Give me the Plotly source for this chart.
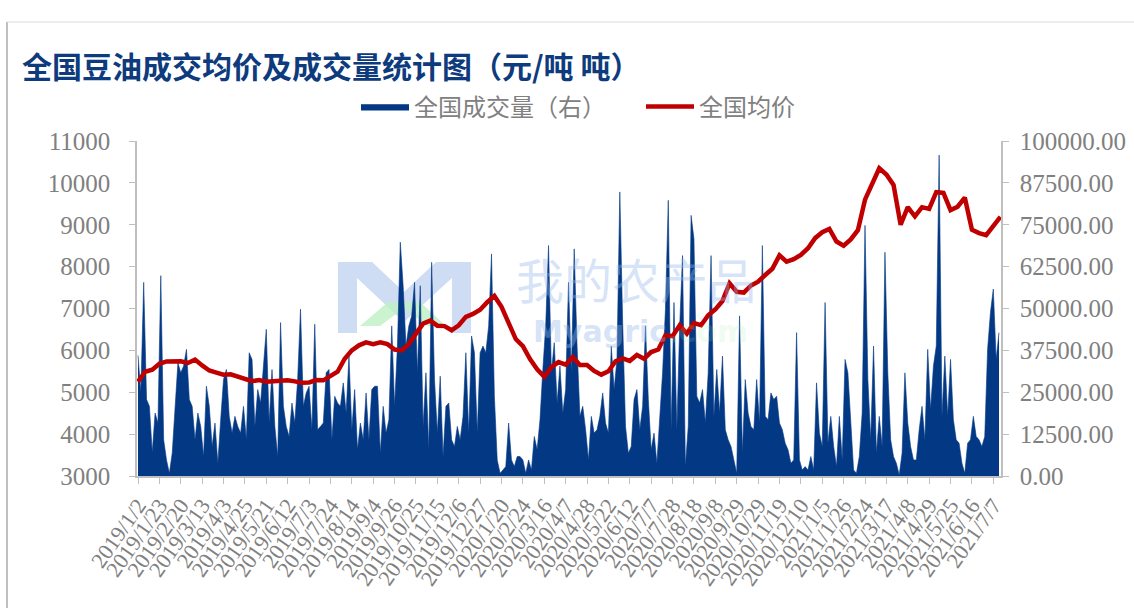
import plotly.graph_objects as go

# ---- data ----
TICK_LABELS = [
    "2019/1/2", "2019/1/23", "2019/2/20", "2019/3/13", "2019/4/3", "2019/4/25",
    "2019/5/21", "2019/6/12", "2019/7/3", "2019/7/24", "2019/8/14", "2019/9/4",
    "2019/9/26", "2019/10/25", "2019/11/15", "2019/12/6", "2019/12/27",
    "2020/1/20", "2020/2/24", "2020/3/16", "2020/4/7", "2020/4/28", "2020/5/22",
    "2020/6/12", "2020/7/7", "2020/7/28", "2020/8/18", "2020/9/8", "2020/9/29",
    "2020/10/29", "2020/11/19", "2020/12/10", "2021/1/5", "2021/1/26",
    "2021/2/24", "2021/3/17", "2021/4/8", "2021/4/29", "2021/5/25",
    "2021/6/16", "2021/7/7",
]
TICK_STEP = 15          # trading days between labels

# national average price (yuan/ton), one reading every 5 trading days
PRICE_STEP = 5
PRICE = [
    5250, 5490, 5540, 5680, 5735, 5740, 5740, 5700, 5780, 5640,
    5520, 5470, 5420, 5430, 5370, 5305, 5265, 5290, 5250, 5260,
    5280, 5285, 5260, 5225, 5235, 5290, 5285, 5390, 5490, 5800,
    6000, 6120, 6190, 6150, 6190, 6150, 6020, 6000, 6150, 6400,
    6640, 6710, 6590, 6580, 6480, 6600, 6800, 6870, 6970, 7150,
    7300, 7040, 6670, 6270, 6100, 5790, 5550, 5370, 5600, 5720,
    5660, 5840, 5650, 5650, 5510, 5420, 5500, 5740, 5810, 5750,
    5890, 5800, 5960, 6020, 6360, 6340, 6600, 6400, 6650, 6600,
    6840, 6980, 7180, 7600, 7400, 7380, 7550, 7640, 7800, 7950,
    8270, 8120, 8180, 8280, 8440, 8680, 8820, 8900, 8600, 8500,
    8650, 8870, 9600, 9950, 10350, 10200, 9950, 9000, 9420, 9200,
    9420, 9380, 9780, 9760, 9350, 9430, 9650, 8880, 8800, 8750,
    8970, 9190,
]

# national traded volume (tons), one reading every 2 trading days
VOLUME_STEP = 2
VOLUME = [
    36000, 25000, 57800, 22800, 20800, 7000, 18800, 15800, 59800, 10800,
    4800, 800, 6800, 18800, 33800, 30800, 32800, 37800, 22800, 20800,
    10800, 18800, 14800, 5800, 26800, 20800, 8800, 15800, 3800, 16800,
    28800, 31800, 17800, 12800, 17800, 14800, 12800, 20800, 10800, 36800,
    34800, 14800, 25800, 21800, 32800, 43800, 15800, 31800, 14800, 5800,
    45800, 20800, 14800, 11800, 21800, 15800, 28800, 49800, 20800, 24800,
    26800,
    13800, 45300, 13800, 14800, 15800, 30800, 31800, 10800, 23800, 21800,
    20800, 27800, 18800, 35800, 13800, 25800, 7800, 15800, 10800, 24800,
    10800, 25800, 26800, 26800, 6800, 20800, 12800, 16800, 44800, 20800,
    38800, 69800, 56800, 38800, 44800, 47800, 57800, 30800, 56800, 14800,
    30800, 7800, 63800, 28800, 12800, 29800, 5800, 20800, 21800, 10800,
    8800, 14800, 10800, 17800, 36800, 12800, 41800, 36800, 12800, 36800,
    38800, 36800, 44800, 66300, 23800, 4800, 800, 1800, 2800, 15800,
    4800, 2800, 5800, 5800, 4800, 800, 4800, 1800, 11800, 7800,
    16800, 31800, 44800, 68800, 30800, 39800, 21800, 32800, 18800, 25800,
    57800, 30800, 67800, 38800, 17800, 20800, 13800, 4800, 17800, 12800,
    13800, 17800, 24800, 15800, 12800, 38800, 25800, 34800, 84800, 45800,
    14800, 6800, 8800, 22800, 25800, 13800, 20800, 44800, 22800,
    7800, 12800, 3800, 16800, 30800, 49800, 82300, 13800, 51800, 13800,
    44800, 65800, 2800, 14800, 77800, 70800, 23800, 21800, 25800, 15800,
    30800, 65800, 17800, 31800, 18800, 35800, 13800, 10800, 8800, 4800,
    800, 47800, 6800, 28800, 18800, 14800, 13800, 28800, 15800, 68800,
    17800, 16800, 24800, 22800, 23800, 15800, 13800, 9800, 7800, 3800,
    4800, 42800, 4800, 1800, 2800, 1800, 5800, 1800, 27800, 12800,
    8800, 51800, 9800, 17800, 8800, 2800, 17800, 4800, 34800, 30800,
    14800, 1800, 800, 5800, 18800, 74800, 28800, 10800, 38800, 6800,
    17800, 8800, 66800, 30800, 10800, 5800, 3800, 300, 6800, 30800,
    15800, 8800, 4800, 4800, 13800, 20800, 10800, 37800, 19800, 32800,
    38800, 95800, 17800, 35800, 17800, 34800, 16800, 10800, 9800, 3800,
    800, 9800, 10800, 17800, 11800, 10800, 8800, 11800, 37800, 48800,
    55800, 34800, 42800,
]

TITLE = "全国豆油成交均价及成交量统计图（元/吨 吨）"
NAME_VOL = "全国成交量（右）"
NAME_PRICE = "全国均价"

# ---- styles ----
NAVY = "#033984"
RED = "#C00000"
GRAY = "#808080"
AXIS = "#BFBFBF"
SERIF = "Liberation Serif, Times New Roman, serif"
CJK = "Noto Sans CJK SC, sans-serif"

price_x = [i * PRICE_STEP for i in range(len(PRICE))]
vol_x = [i * VOLUME_STEP for i in range(len(VOLUME))]
tick_vals = [i * TICK_STEP for i in range(len(TICK_LABELS))]

fig = go.Figure()
fig.add_trace(go.Scatter(
    x=vol_x, y=VOLUME, name=NAME_VOL, mode="lines",
    line=dict(color=NAVY, width=0.6), fill="tozeroy", fillcolor=NAVY,
    yaxis="y", hoverinfo="skip",
))
fig.add_trace(go.Scatter(
    x=price_x, y=PRICE, name=NAME_PRICE, mode="lines",
    line=dict(color=RED, width=4.5),
    yaxis="y2", hoverinfo="skip",
))

W, H = 1134, 608
L, R, T, B = 137, 133, 141, 132
pw, ph = W - L - R, H - T - B


def px(xp):
    return (xp - L) / pw


def py(yp):
    return (H - B - yp) / ph


fig.update_layout(
    width=W, height=H,
    margin=dict(l=L, r=R, t=T, b=B, autoexpand=False),
    paper_bgcolor="white", plot_bgcolor="white",
    showlegend=True,
    title=dict(text=TITLE, x=22 / W, xanchor="left", y=1 - 67 / H, yanchor="middle",
               font=dict(family=CJK, size=30, color="#0D3B7D", weight="bold")),
    legend=dict(orientation="h", x=px(356), xanchor="left", y=py(107), yanchor="middle",
                font=dict(family=CJK, size=24, color=GRAY),
                itemwidth=48, entrywidth=222, entrywidthmode="pixels",
                bgcolor="rgba(0,0,0,0)", traceorder="normal"),
    xaxis=dict(range=[-0.7, 605.4], tickvals=tick_vals, ticktext=TICK_LABELS,
               tickangle=-55, tickfont=dict(family=SERIF, size=22, color=GRAY),
               showline=True, linecolor=AXIS, linewidth=1.5, ticks="outside",
               tickcolor=AXIS, ticklen=6, showgrid=False, zeroline=False),
    yaxis=dict(side="right", range=[0, 100000], dtick=12500, tickformat=".2f",
               tickfont=dict(family=SERIF, size=25, color=GRAY),
               ticklabelstandoff=6,
               showline=True, linecolor=AXIS, linewidth=1.5, ticks="outside",
               tickcolor=AXIS, ticklen=6, showgrid=False, zeroline=False),
    yaxis2=dict(side="left", overlaying="y", range=[3000, 11000], dtick=1000,
                tickformat="d", ticklabelstandoff=14,
                tickfont=dict(family=SERIF, size=25, color=GRAY),
                showline=True, linecolor=AXIS, linewidth=1.5, ticks="outside",
                tickcolor=AXIS, ticklen=6, showgrid=False, zeroline=False),
)

# outer frame lines (left and top) of the original picture
fig.add_shape(type="line", xref="paper", yref="paper", x0=px(7), x1=px(7),
              y0=py(22), y1=py(608), line=dict(color="#BFBFBF", width=2))
fig.add_shape(type="line", xref="paper", yref="paper", x0=px(7), x1=px(1134),
              y0=py(22), y1=py(22), line=dict(color="#D9D9D9", width=1))


def path(points):
    return "M " + " L ".join(f"{px(a):.5f},{py(b):.5f}" for a, b in points) + " Z"


# faint "M" logo of the watermark, behind the data
fig.add_shape(type="path", xref="paper", yref="paper", layer="below",
              path=path([(338, 262), (372, 262), (404, 292), (436, 262), (471, 262),
                         (471, 333), (452, 333), (452, 278), (404, 322), (357, 278),
                         (357, 333), (338, 333)]),
              fillcolor="rgba(190,210,240,0.75)", line=dict(width=0))
fig.add_shape(type="path", xref="paper", yref="paper", layer="below",
              path=path([(360, 326), (388, 302), (420, 302), (446, 326), (428, 326),
                         (404, 308), (380, 326)]),
              fillcolor="rgba(190,240,195,0.8)", line=dict(width=0))

# faint watermark text
fig.add_annotation(xref="paper", yref="paper", x=px(636), y=py(278), text="我的农产品",
                   showarrow=False, font=dict(family=CJK, size=48,
                                              color="rgba(150,185,235,0.40)"))
fig.add_annotation(xref="paper", yref="paper", x=px(640), y=py(331),
                   text="<b>Myagric</b><span style='color:rgba(160,235,170,0.45)'><b>.com</b></span>",
                   showarrow=False, font=dict(family="DejaVu Sans", size=30,
                                              color="rgba(150,185,235,0.40)"))

fig.write_html("out.html", config={"displayModeBar": False},
               post_script="document.body.style.margin='0px';")
